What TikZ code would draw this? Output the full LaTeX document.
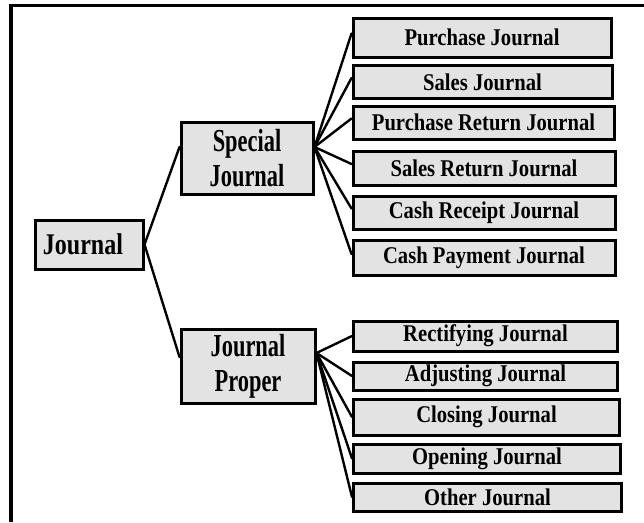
\documentclass[tikz,border=0pt]{standalone}
\usepackage{fontspec}
\setmainfont{Liberation Serif}[FakeStretch=0.86]
\newfontfamily\condmain{Liberation Serif}[FakeStretch=0.80]
\newfontfamily\condmid{Liberation Serif}[FakeStretch=0.70]
\begin{document}
\begin{tikzpicture}[x=1pt,y=-1pt,
  box/.style={draw=black,line width=3pt,fill=gray!22,inner sep=0pt,
    font=\fontsize{24}{28}\selectfont\bfseries,align=center},
  rootbox/.style={box,font=\condmain\fontsize{30}{34}\selectfont\bfseries},
  midbox/.style={box,font=\condmid\fontsize{32}{35}\selectfont\bfseries},
  link/.style={line width=2.4pt,line cap=round}]
\useasboundingbox (0,0) rectangle (644,522);
% frame
\draw[line width=3.5pt] (11,522) -- (11,5.5) -- (644,5.5);
% level 1
\node[rootbox,minimum width=108pt,minimum height=49pt] (J) at (89,244.5) {Journal\hspace*{12pt}};
% level 2
\node[midbox,minimum width=132pt,minimum height=72pt] (S) at (247,158) {Special\\Journal};
\node[midbox,minimum width=134pt,minimum height=74pt] (P) at (248,366) {Journal\\Proper};
% level 3 special
\node[box,minimum width=258pt,minimum height=39pt] (s1) at (482,37.5) {Purchase Journal};
\node[box,minimum width=259pt,minimum height=33pt] (s2) at (482.5,82) {Sales Journal};
\node[box,minimum width=261pt,minimum height=33pt] (s3) at (483.5,122.5) {Purchase Return Journal};
\node[box,minimum width=262pt,minimum height=34pt] (s4) at (484,168) {Sales Return Journal};
\node[box,minimum width=262pt,minimum height=33pt] (s5) at (484,212.5) {Cash Receipt Journal};
\node[box,minimum width=262pt,minimum height=35pt] (s6) at (484,258) {Cash Payment Journal};
% level 3 proper
\node[box,minimum width=264pt,minimum height=30pt] (p1) at (485.5,336) {Rectifying Journal};
\node[box,minimum width=264pt,minimum height=28pt] (p2) at (485.5,376) {Adjusting Journal};
\node[box,minimum width=266pt,minimum height=36pt] (p3) at (486.5,417) {Closing Journal};
\node[box,minimum width=267pt,minimum height=29pt] (p4) at (487,458.5) {Opening Journal};
\node[box,minimum width=268pt,minimum height=28pt] (p5) at (487.5,497) {Other Journal};
% fan points
\coordinate (so) at ([yshift=11pt]S.east);
\coordinate (po) at ([yshift=13pt]P.east);
% connectors
\draw[link] (J.east) -- ([yshift=11pt]S.west);
\draw[link] (J.east) -- ([yshift=9pt]P.west);
\foreach \n in {s1,s2,s3,s4,s5,s6} \draw[link] (so) -- ([yshift=4pt]\n.west);
\foreach \n in {p1,p2,p3,p4,p5} \draw[link] (po) -- (\n.west);
\end{tikzpicture}
\end{document}
